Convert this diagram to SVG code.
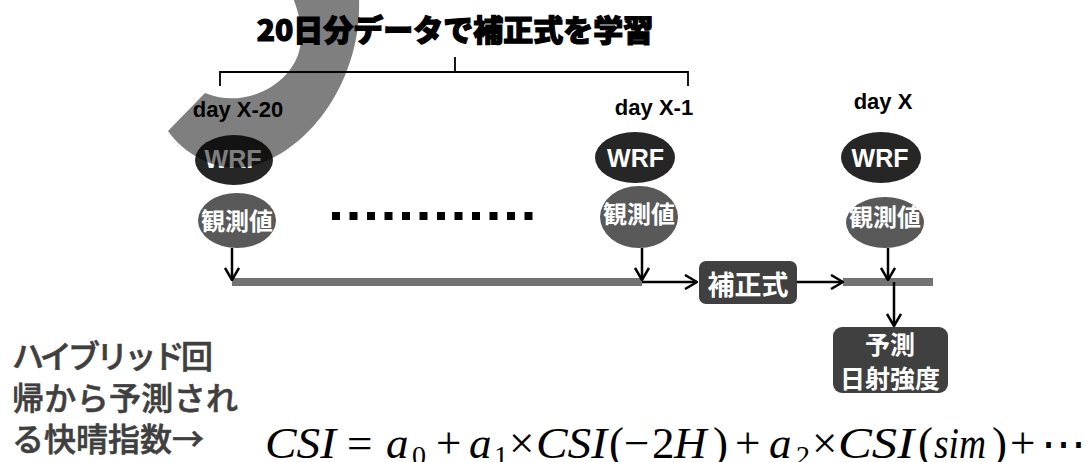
<svg xmlns="http://www.w3.org/2000/svg" width="1085" height="462" viewBox="0 0 1085 462">
  <defs>
    <style>
      .day { font-family: "Liberation Sans", Arial, sans-serif; font-weight: bold; font-size: 22px; fill: #000; text-anchor: middle; }
      .wrf { fill: #262626; }
      .obs { fill: #595959; }
      .box { fill: #404040; }
      .wrf-t { font-family: "Liberation Sans", Arial, sans-serif; font-weight: bold; font-size: 25px; fill: #fff; text-anchor: middle; }
      .jp-w { font-family: "Noto Sans CJK JP", sans-serif; font-weight: bold; fill: #fff; text-anchor: middle; }
      .conn { stroke: #000; stroke-width: 2.5; fill: none; }
      .bar { fill: #737373; }
      .bracket { stroke: #000; stroke-width: 1.8; fill: none; }
      .note { font-family: "Noto Sans CJK JP", sans-serif; font-weight: 500; font-size: 32px; fill: #3f3f3f; stroke: #3f3f3f; stroke-width: 0.6; }
      .math { font-family: "Liberation Serif", "Times New Roman", "DejaVu Serif", serif; font-size: 45px; fill: #000; }
      .it { font-style: italic; }
      .sub { font-size: 28px; }
    </style>
    <marker id="arrow" viewBox="0 0 14 16" refX="13" refY="8" markerWidth="14" markerHeight="16" markerUnits="userSpaceOnUse" orient="auto">
      <path d="M1,1 L13,8 L1,15" fill="none" stroke="#000" stroke-width="2.5"/>
    </marker>
  </defs>

  <rect width="1085" height="462" fill="#fff"/>

  <!-- heading and training-window bracket -->
  <g id="title">
    <text x="455" y="41" font-family="'Noto Sans CJK JP', sans-serif" font-weight="900" font-size="30" text-anchor="middle" fill="#000" stroke="#000" stroke-width="1.2">20日分データで補正式を学習</text>
    <path class="bracket" d="M220,86 V72 H688 V86 M455,57 V72"/>
  </g>

  <!-- timeline bars, arrows and the dotted gap -->
  <g id="connectors">
    <rect class="bar" x="232" y="278" width="410" height="8"/>
    <rect class="bar" x="843" y="278" width="90" height="8"/>
    <line x1="332" y1="216" x2="537" y2="216" stroke="#000" stroke-width="8" stroke-dasharray="8 9.5"/>
    <line class="conn" x1="232" y1="248" x2="232" y2="280" marker-end="url(#arrow)"/>
    <line class="conn" x1="642" y1="248" x2="642" y2="280" marker-end="url(#arrow)"/>
    <line class="conn" x1="642" y1="282" x2="697" y2="282" marker-end="url(#arrow)"/>
    <line class="conn" x1="797" y1="282" x2="843" y2="282" marker-end="url(#arrow)"/>
    <line class="conn" x1="888" y1="248" x2="888" y2="280" marker-end="url(#arrow)"/>
    <line class="conn" x1="894" y1="282" x2="894" y2="326" marker-end="url(#arrow)"/>
  </g>

  <!-- day X-20 -->
  <g id="day-x-20">
    <text class="day" x="238" y="117">day X-20</text>
    <ellipse class="wrf" cx="234" cy="160" rx="39" ry="25"/>
    <text class="wrf-t" x="233" y="168">WRF</text>
    <ellipse class="obs" cx="237" cy="220.5" rx="39" ry="27.5"/>
    <text class="jp-w" x="237" y="230" font-size="24">観測値</text>
  </g>

  <!-- day X-1 -->
  <g id="day-x-1">
    <text class="day" x="654" y="115">day X-1</text>
    <ellipse class="wrf" cx="635" cy="157.5" rx="40" ry="25.5"/>
    <text class="wrf-t" x="635.5" y="167">WRF</text>
    <ellipse class="obs" cx="639" cy="217" rx="39" ry="31"/>
    <text class="jp-w" x="639" y="223" font-size="24">観測値</text>
  </g>

  <!-- day X -->
  <g id="day-x">
    <text class="day" x="883" y="109">day X</text>
    <ellipse class="wrf" cx="881" cy="157.5" rx="40" ry="25.5"/>
    <text class="wrf-t" x="880" y="167">WRF</text>
    <ellipse class="obs" cx="885" cy="222.5" rx="39" ry="25.5"/>
    <text class="jp-w" x="885" y="226" font-size="24">観測値</text>
  </g>

  <!-- correction formula box -->
  <g id="correction">
    <rect class="box" x="699" y="261" width="98" height="43" rx="7"/>
    <text class="jp-w" x="748" y="295" font-size="27">補正式</text>
  </g>

  <!-- forecast irradiance box -->
  <g id="forecast">
    <rect class="box" x="833" y="327" width="115" height="66" rx="9"/>
    <text class="jp-w" x="890" y="354" font-size="25">予測</text>
    <text class="jp-w" x="890" y="388" font-size="25">日射強度</text>
  </g>

  <!-- translucent curved band over the first day -->
  <path id="band" d="M359,-2 C362,70 320,140 262,163 C230,176 190,162 168,131 L205,93 C240,108 285,90 298,55 C304,38 301,18 293,-2 Z" fill="#000" fill-opacity="0.5"/>

  <!-- side note -->
  <g id="note">
    <text class="note" x="12" y="368" textLength="201" lengthAdjust="spacing">ハイブリッド回</text>
    <text class="note" x="12" y="410" textLength="226" lengthAdjust="spacing">帰から予測され</text>
    <text class="note" x="12" y="451">る快晴指数→</text>
  </g>

  <!-- regression formula -->
  <g id="formula">
    <text class="math" y="458">
      <tspan class="it" x="265" textLength="71" lengthAdjust="spacingAndGlyphs">CSI</tspan>
      <tspan x="347">=</tspan>
      <tspan class="it" x="386">a</tspan>
      <tspan class="sub" x="412" dy="7">0</tspan>
      <tspan x="436" dy="-7">+</tspan>
      <tspan class="it" x="469">a</tspan>
      <tspan class="sub" x="494" dy="7">1</tspan>
      <tspan x="509" dy="-7">×</tspan>
      <tspan class="it" x="536" textLength="71" lengthAdjust="spacingAndGlyphs">CSI</tspan>
      <tspan x="609">(</tspan>
      <tspan x="624">−</tspan>
      <tspan x="652">2</tspan>
      <tspan class="it" x="674">H</tspan>
      <tspan x="713">)</tspan>
      <tspan x="735">+</tspan>
      <tspan class="it" x="769">a</tspan>
      <tspan class="sub" x="796" dy="7">2</tspan>
      <tspan x="812" dy="-7">×</tspan>
      <tspan class="it" x="838" textLength="76" lengthAdjust="spacingAndGlyphs">CSI</tspan>
      <tspan x="918">(</tspan>
      <tspan class="it" x="934" textLength="52" lengthAdjust="spacingAndGlyphs">sim</tspan>
      <tspan x="992">)</tspan>
      <tspan x="1010">+</tspan>
      <tspan x="1041">⋯</tspan>
    </text>
  </g>
</svg>
